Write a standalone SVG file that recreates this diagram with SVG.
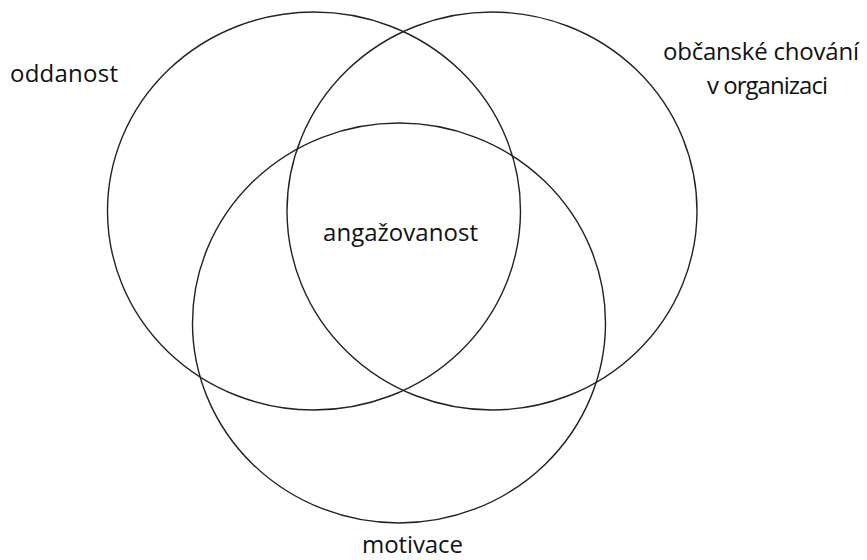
<svg xmlns="http://www.w3.org/2000/svg" width="867" height="560" viewBox="0 0 867 560">
<style>
.c{fill:none;stroke:#222;stroke-width:1.4}
.t{font-family:"Open Sans","Liberation Sans",sans-serif;font-size:24px;fill:#111}
</style>
<rect width="867" height="560" fill="#fff"/>
<g id="oddanost">
<ellipse class="c" cx="314" cy="211" rx="206.5" ry="199"/>
<text class="t" x="10" y="82" textLength="108">oddanost</text>
</g>
<g id="obcanske">
<ellipse class="c" cx="492" cy="211" rx="205" ry="199"/>
<text class="t" x="663" y="60" textLength="196">občanské chování</text>
<text class="t" x="707" y="94" textLength="121">v organizaci</text>
</g>
<g id="motivace">
<ellipse class="c" cx="399" cy="323" rx="206.5" ry="200"/>
<text class="t" x="362" y="553" textLength="101">motivace</text>
</g>
<g id="angazovanost">
<text class="t" x="323" y="241" textLength="155">angažovanost</text>
</g>
<g id="connectors"/>
</svg>
